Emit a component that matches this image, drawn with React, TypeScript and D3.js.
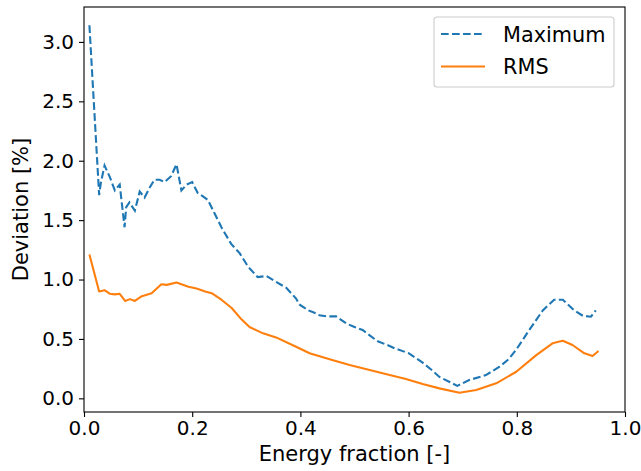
import React, { useRef, useEffect } from "react";
import * as d3 from "d3";

// Maximum deviation series (x = energy fraction, y = deviation in %)
const maxX = [
  0.01, 0.028, 0.031, 0.038, 0.048, 0.057, 0.066, 0.075, 0.078, 0.084, 0.094,
  0.103, 0.112, 0.121, 0.13, 0.14, 0.149, 0.161, 0.171, 0.18, 0.19, 0.2, 0.21,
  0.22, 0.229, 0.241, 0.254, 0.272, 0.288, 0.303, 0.321, 0.337, 0.355, 0.374,
  0.392, 0.398, 0.415, 0.426, 0.435, 0.448, 0.466, 0.485, 0.5, 0.515, 0.528,
  0.543, 0.56, 0.575, 0.6, 0.626, 0.645, 0.657, 0.675, 0.69, 0.712, 0.743,
  0.768, 0.785, 0.799, 0.823, 0.848, 0.869, 0.885, 0.906, 0.922, 0.937, 0.946,
];
const maxY = [
  3.14, 1.71, 1.81, 1.96, 1.86, 1.75, 1.8, 1.44, 1.61, 1.65, 1.58, 1.74, 1.69,
  1.77, 1.84, 1.84, 1.82, 1.87, 1.97, 1.75, 1.8, 1.82, 1.73, 1.7, 1.67, 1.56,
  1.44, 1.3, 1.22, 1.11, 1.02, 1.03, 0.98, 0.93, 0.84, 0.79, 0.74, 0.72, 0.7,
  0.69, 0.69, 0.63, 0.6, 0.575, 0.53, 0.48, 0.45, 0.42, 0.38, 0.3, 0.23, 0.18,
  0.14, 0.105, 0.154, 0.196, 0.266, 0.33, 0.41, 0.575, 0.74, 0.83, 0.83, 0.74,
  0.695, 0.687, 0.74,
];

// RMS deviation series
const rmsX = [
  0.01, 0.028, 0.038, 0.048, 0.057, 0.066, 0.076, 0.085, 0.094, 0.107, 0.125,
  0.143, 0.153, 0.171, 0.193, 0.208, 0.224, 0.236, 0.254, 0.273, 0.291, 0.306,
  0.331, 0.355, 0.392, 0.417, 0.454, 0.491, 0.528, 0.565, 0.595, 0.626, 0.657,
  0.694, 0.725, 0.762, 0.799, 0.836, 0.866, 0.885, 0.903, 0.925, 0.94, 0.951,
];
const rmsY = [
  1.21, 0.9, 0.91, 0.88, 0.875, 0.88, 0.82, 0.835, 0.82, 0.86, 0.885, 0.96,
  0.955, 0.975, 0.94, 0.925, 0.9, 0.885, 0.83, 0.76, 0.665, 0.6, 0.547, 0.513,
  0.434, 0.38, 0.328, 0.28, 0.238, 0.196, 0.162, 0.12, 0.084, 0.047, 0.07,
  0.126, 0.224, 0.364, 0.463, 0.485, 0.449, 0.379, 0.356, 0.398,
];

const xTicks = [0, 0.2, 0.4, 0.6, 0.8, 1.0];
const yTicks = [0, 0.5, 1.0, 1.5, 2.0, 2.5, 3.0];
const seriesNames = ["Maximum", "RMS"];
const seriesColors = ["#1f77b4", "#ff7f0e"];

const FONT = "DejaVu Sans, sans-serif";
const FS = 20;

const App = () => {
  const svgRef = useRef<SVGSVGElement | null>(null);

  useEffect(() => {
    const svg = d3.select(svgRef.current);
    svg.selectAll("*").remove();

    const width = 641;
    const height = 471;
    const margin = { top: 7, right: 16, bottom: 59, left: 84 };
    const innerWidth = width - margin.left - margin.right;
    const innerHeight = height - margin.top - margin.bottom;

    const x = d3.scaleLinear().domain([0, 1]).range([0, innerWidth]);
    const y = d3.scaleLinear().domain([-0.115, 3.294]).range([innerHeight, 0]);

    const g = svg
      .append("g")
      .attr("transform", `translate(${margin.left}, ${margin.top})`);

    const line = d3
      .line<[number, number]>()
      .x((d) => x(d[0]))
      .y((d) => y(d[1]));

    const maxData: [number, number][] = maxX.map((v, i) => [v, maxY[i]]);
    const rmsData: [number, number][] = rmsX.map((v, i) => [v, rmsY[i]]);

    // data lines
    g.append("path")
      .datum(maxData)
      .attr("d", line)
      .attr("fill", "none")
      .attr("stroke", seriesColors[0])
      .attr("stroke-width", 2.1)
      .attr("stroke-dasharray", "7.7,3.3");

    g.append("path")
      .datum(rmsData)
      .attr("d", line)
      .attr("fill", "none")
      .attr("stroke", seriesColors[1])
      .attr("stroke-width", 2.1)
      .attr("stroke-linejoin", "round");

    // axes
    const xAxis = g
      .append("g")
      .attr("transform", `translate(0, ${innerHeight})`)
      .call(
        d3
          .axisBottom(x)
          .tickValues(xTicks)
          .tickFormat(d3.format(".1f"))
          .tickSize(5)
          .tickPadding(4)
          .tickSizeOuter(0)
      );

    const yAxis = g
      .append("g")
      .call(
        d3
          .axisLeft(y)
          .tickValues(yTicks)
          .tickFormat(d3.format(".1f"))
          .tickSize(5)
          .tickPadding(5)
          .tickSizeOuter(0)
      );

    [xAxis, yAxis].forEach((a) => {
      a.select(".domain").remove();
      a.selectAll("line").attr("stroke", "#000").attr("stroke-width", 1.1);
      a.selectAll("text")
        .attr("fill", "#000")
        .style("font-family", FONT)
        .style("font-size", `${FS}px`);
    });

    // frame
    g.append("rect")
      .attr("width", innerWidth)
      .attr("height", innerHeight)
      .attr("fill", "none")
      .attr("stroke", "#000")
      .attr("stroke-width", 1.1);

    // axis labels
    svg
      .append("text")
      .attr("x", margin.left + innerWidth / 2)
      .attr("y", 461)
      .attr("text-anchor", "middle")
      .style("font-family", FONT)
      .style("font-size", "21px")
      .text("Energy fraction [-]");

    svg
      .append("text")
      .attr("transform", `translate(28, ${margin.top + innerHeight / 2}) rotate(-90)`)
      .attr("text-anchor", "middle")
      .style("font-family", FONT)
      .style("font-size", "21px")
      .text("Deviation [%]");

    // legend
    const legend = svg.append("g").attr("transform", "translate(434, 17)");
    legend
      .append("rect")
      .attr("width", 180)
      .attr("height", 70)
      .attr("rx", 3)
      .attr("fill", "#fff")
      .attr("fill-opacity", 0.8)
      .attr("stroke", "#cccccc")
      .attr("stroke-width", 1.1);

    seriesNames.forEach((name, i) => {
      const cy = 17 + i * 32.5;
      legend
        .append("line")
        .attr("x1", 7)
        .attr("x2", 51)
        .attr("y1", cy)
        .attr("y2", cy)
        .attr("stroke", seriesColors[i])
        .attr("stroke-width", 2.1)
        .attr("stroke-dasharray", i === 0 ? "7.7,3.3" : null);
      legend
        .append("text")
        .attr("x", 69)
        .attr("y", cy + 7.5)
        .attr("fill", "#000")
        .style("font-family", FONT)
        .style("font-size", "20.8px")
        .text(name);
    });
  }, []);

  return (
    <svg
      ref={svgRef}
      width={641}
      height={471}
      style={{ position: "absolute", left: 0, top: 0, background: "#fff" }}
    />
  );
};

export default App;
